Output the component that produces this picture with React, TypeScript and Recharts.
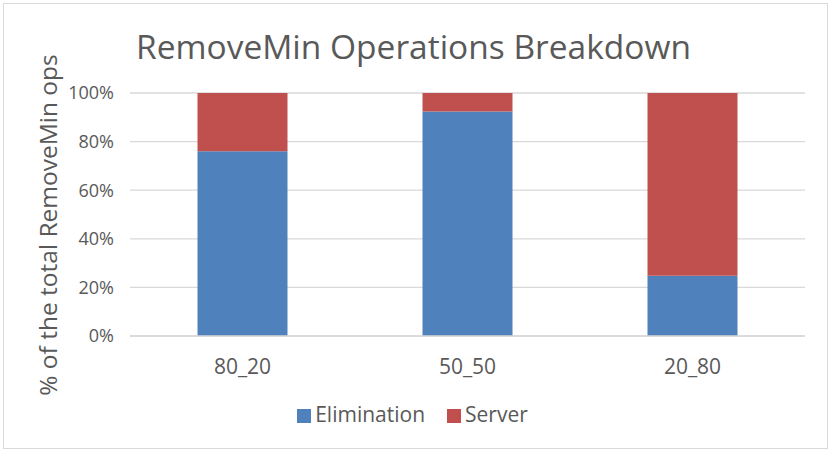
import { Bar, BarChart, CartesianGrid, Legend, XAxis, YAxis } from "recharts";

const categories = ["80_20", "50_50", "20_80"];
const elimination = [76, 92.4, 24.8];
const server = [24, 7.6, 75.2];
const yTicks = [0, 20, 40, 60, 80, 100];

const data = categories.map((name, i) => ({
  name,
  Elimination: elimination[i],
  Server: server[i],
}));

const FONT = "'Open Sans', sans-serif";
const TEXT = "#595959";

export default function App() {
  return (
    <div style={{ position: "absolute", left: 0, top: 0, width: 831, height: 455, background: "#fff", fontFamily: FONT }}>
      <div
        style={{
          position: "absolute",
          left: 3,
          top: 3,
          width: 823,
          height: 444,
          border: "1px solid #d9d9d9",
        }}
      />
      <div
        style={{
          position: "absolute",
          left: 0,
          width: 831,
          top: 24,
          textAlign: "center",
          fontSize: 33.5,
          color: TEXT,
          lineHeight: "44px",
        }}
      >
        <span style={{ position: "relative", left: -2 }}>RemoveMin Operations Breakdown</span>
      </div>
      <div
        style={{
          position: "absolute",
          left: 47,
          top: 225,
          transform: "translate(-50%, -50%) rotate(-90deg)",
          whiteSpace: "nowrap",
          fontSize: 24.5,
          color: TEXT,
        }}
      >
        % of the total RemoveMin ops
      </div>
      <div style={{ position: "absolute", left: 0, top: 0 }}>
        <BarChart
          width={831}
          height={455}
          data={data}
          margin={{ top: 93, right: 26, bottom: 61, left: 70 }}
          barCategoryGap="30%"
        >
          <CartesianGrid vertical={false} stroke="#d9d9d9" strokeWidth={1.3} />
          <XAxis
            dataKey="name"
            axisLine={{ stroke: "#d9d9d9", strokeWidth: 1.3 }}
            tickLine={false}
            tickSize={0}
            tickMargin={23}
            tick={{ fill: TEXT, fontSize: 21, fontFamily: FONT }}
          />
          <YAxis
            width={60}
            domain={[0, 100]}
            ticks={yTicks}
            tickFormatter={(v) => `${v}%`}
            axisLine={false}
            tickLine={false}
            tickSize={0}
            tickMargin={16}
            tick={{ fill: TEXT, fontSize: 18, fontFamily: FONT }}
          />
          <Legend
            verticalAlign="bottom"
            iconType="square"
            iconSize={14}
            wrapperStyle={{ top: 400, left: 2, width: 831, fontSize: 21, fontFamily: FONT }}
            formatter={(value, entry, index) => (
              <span style={{ color: TEXT, marginRight: index === 0 ? 12 : 0 }}>{value}</span>
            )}
          />
          <Bar dataKey="Elimination" stackId="a" fill="#4F81BD" isAnimationActive={false} />
          <Bar dataKey="Server" stackId="a" fill="#C0504D" isAnimationActive={false} />
        </BarChart>
      </div>
    </div>
  );
}
